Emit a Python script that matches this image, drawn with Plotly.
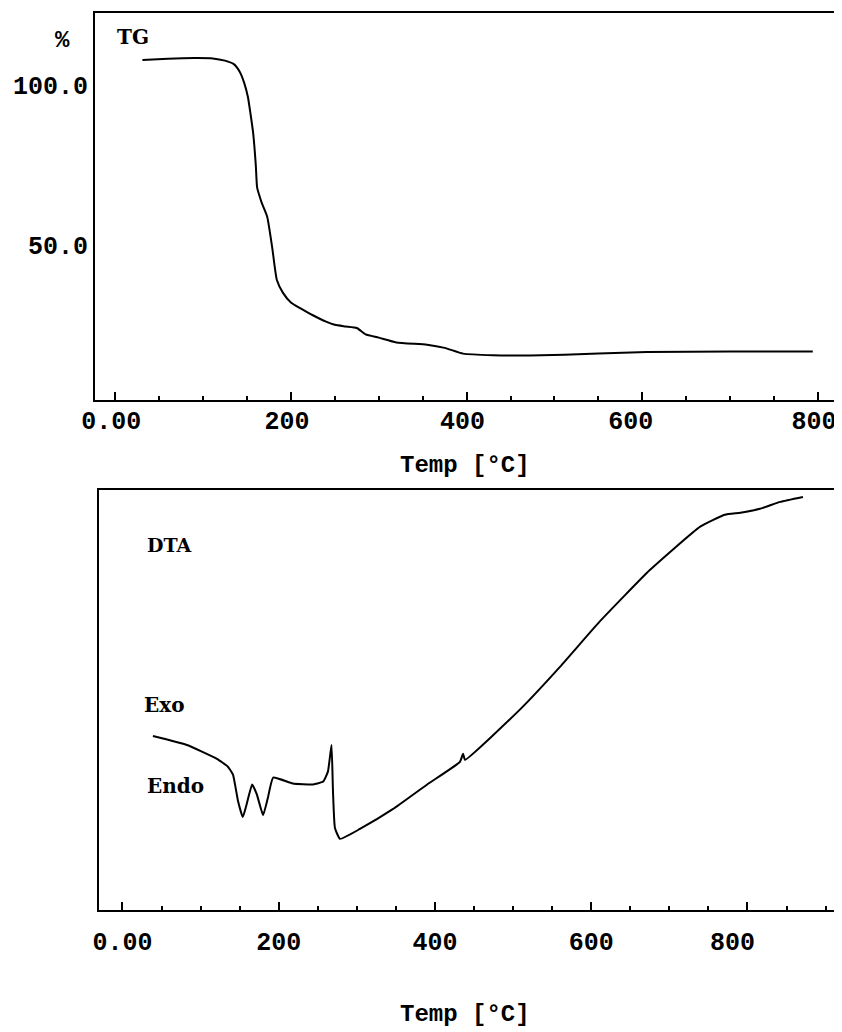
import plotly.graph_objects as go

# ---------------- data ----------------
tg_temp = [31, 60, 90, 111, 125, 135, 142, 147, 151, 154, 157, 160, 161.5, 164, 167, 173,
           178.6, 184, 191, 200, 212, 225, 240, 250, 262, 275, 285, 300, 320, 355, 375,
           396, 430, 472, 550, 605, 700, 794]
tg_mass = [107.8, 108.2, 108.4, 108.3, 107.6, 106.5, 104, 100.5, 96.3, 91, 85, 75, 68,
           65.5, 63, 58.8, 49.4, 39, 35, 32, 30, 28, 26, 25, 24.5, 24, 22, 21, 19.5, 18.8,
           17.8, 16, 15.5, 15.4, 16, 16.5, 16.7, 16.7]

dta_temp = [39, 82.6, 121, 135, 141.5, 148, 154, 159, 166, 172, 180, 186, 193, 218, 244,
            257, 263, 267.6, 269.5, 272, 278.5, 304, 346, 390, 432, 436, 438.5, 509, 560,
            611, 675, 739.5, 771, 791, 816, 842, 871]
dta_signal = [17.6, 16.7, 15.3, 14.5, 13.7, 11.0, 9.4, 10.7, 12.7, 11.7, 9.6, 11.3, 13.4,
              12.8, 12.7, 13.0, 14.0, 16.7, 12.0, 8.3, 7.2, 8.2, 10.2, 12.7, 15.0, 15.8,
              15.2, 20.3, 24.6, 29.2, 34.4, 38.8, 40.0, 40.2, 40.6, 41.3, 41.8]

tick_vals = [0, 200, 400, 600, 800]
NB = "\u00a0"
tg_tick_text = ["0.00", "200", "400", "600" + NB, "800"]
dta_tick_text = ["0.00", "200", "400", "600", "800" + NB * 2]
tg_ytick_vals = [50, 100]
tg_ytick_text = ["50.0", "100.0"]

# ---------------- figure ----------------
# the page body has an 8 px margin, so the figure is drawn 8 px smaller and offset
OFF = 8
W, H = 842 - OFF, 1032 - OFF
def px(x):
    return (x - OFF) / W
def py(y):
    return 1 - (y - OFF) / H

fig = go.Figure()
fig.add_trace(go.Scatter(x=tg_temp, y=tg_mass, mode="lines",
                         line=dict(color="black", width=2, shape="spline", smoothing=0.5),
                         xaxis="x", yaxis="y", showlegend=False, hoverinfo="skip"))
fig.add_trace(go.Scatter(x=dta_temp, y=dta_signal, mode="lines",
                         line=dict(color="black", width=2, shape="spline", smoothing=0.4),
                         xaxis="x2", yaxis="y2", showlegend=False, hoverinfo="skip"))

num_font = dict(family="Liberation Mono, DejaVu Sans Mono, monospace", size=25, color="black",
                weight="bold")

xcommon = dict(showgrid=False, zeroline=False, showline=True, linecolor="black", linewidth=2,
               ticks="inside", ticklen=8, tickwidth=1.5, tickcolor="black",
               tickvals=tick_vals, tickfont=num_font, automargin=False,
               ticklabeloverflow="allow",
               minor=dict(ticks="inside", ticklen=4, tickwidth=1.5, tickcolor="black", dtick=50,
                          tick0=0, showgrid=False))

fig.update_layout(
    template="none",
    width=W, height=H, margin=dict(l=0, r=0, t=0, b=0, autoexpand=False),
    paper_bgcolor="white", plot_bgcolor="white",
    xaxis=dict(domain=[px(95), px(840)], range=[-23, 825], anchor="y", mirror=True,
               ticktext=tg_tick_text, ticklabelstandoff=-3, ticklabelshift=-4, **xcommon),
    yaxis=dict(domain=[py(400), py(13)], range=[1.5, 122.5], anchor="x", showgrid=False,
               zeroline=False, showline=True, linecolor="black", linewidth=2, mirror=True,
               ticks="", tickvals=tg_ytick_vals, ticktext=tg_ytick_text, tickfont=num_font,
               automargin=False),
    xaxis2=dict(domain=[px(99), 1.0], range=[-30, 921], anchor="y2", mirror=True,
                ticktext=dta_tick_text, ticklabelstandoff=8, **xcommon),
    yaxis2=dict(domain=[py(910), py(490)], range=[0, 42.5], anchor="x2", showgrid=False,
                zeroline=False, showline=True, linecolor="black", linewidth=2,
                showticklabels=False, ticks="", automargin=False),
)

serif = "DejaVu Serif, Liberation Serif, serif"
mono_b = "Liberation Mono, DejaVu Sans Mono, monospace"
annots = [
    dict(text="<b>%</b>", x=px(62), y=py(40), font=dict(family=mono_b, size=24)),
    dict(text="<b>TG</b>", x=px(133), y=py(37), font=dict(family=serif, size=20)),
    dict(text="<b>Temp [°C]</b>", x=px(465), y=py(465), font=dict(family=mono_b, size=24)),
    dict(text="<b>DTA</b>", x=px(169), y=py(545), font=dict(family=serif, size=19)),
    dict(text="<b>Exo</b>", x=px(164), y=py(705), font=dict(family=serif, size=20)),
    dict(text="<b>Endo</b>", x=px(175), y=py(786), font=dict(family=serif, size=20)),
    dict(text="<b>Temp [°C]</b>", x=px(465), y=py(1014), font=dict(family=mono_b, size=24)),
]
for a in annots:
    a.update(xref="paper", yref="paper", showarrow=False, xanchor="center", yanchor="middle")
    a["font"]["color"] = "black"
    fig.add_annotation(**a)

fig.write_html("out.html")
